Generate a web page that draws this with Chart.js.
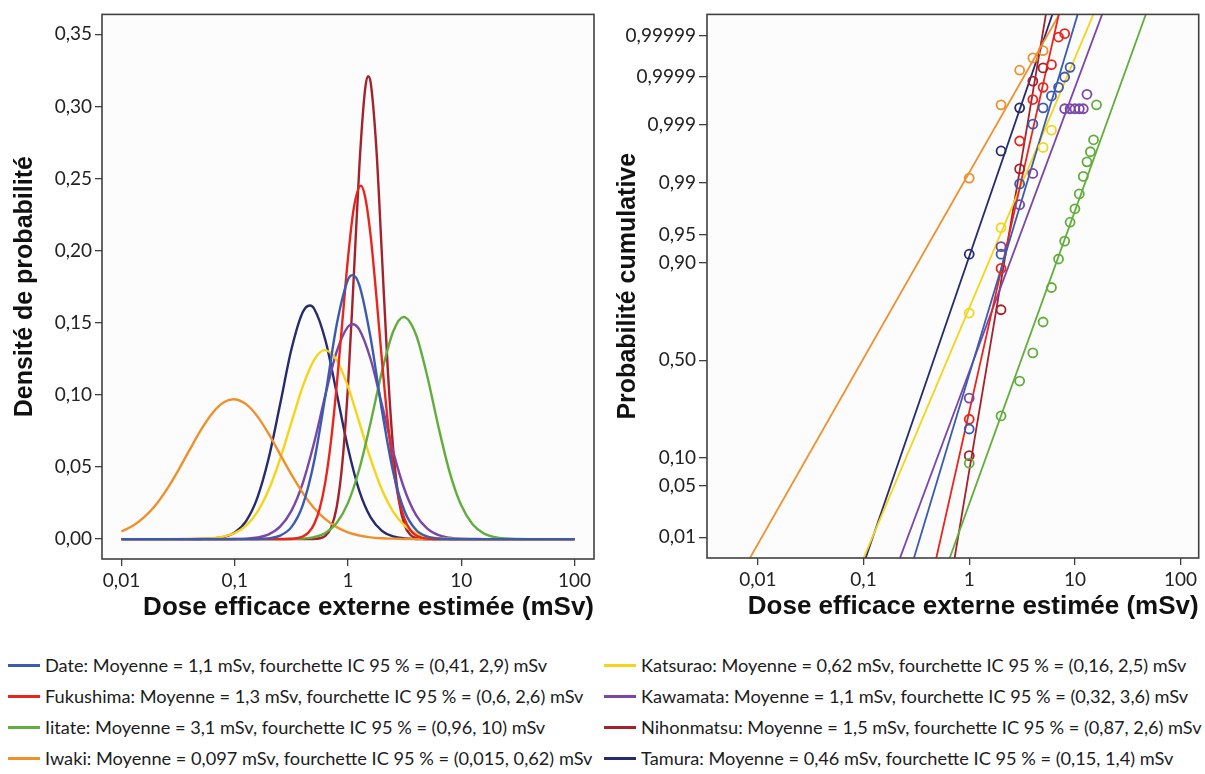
<!DOCTYPE html>
<html>
<head>
<meta charset="utf-8">
<script src="https://cdn.jsdelivr.net/npm/chart.js@4.4.1/dist/chart.umd.min.js"></script>
<style>
html,body{margin:0;padding:0;background:#fff;}
#wrap{position:relative;width:1205px;height:774px;overflow:hidden;background:#fff;}
#c1{position:absolute;left:0;top:0;}
#c2{position:absolute;left:600px;top:0;}
.item{position:absolute;display:flex;align-items:center;height:31px;white-space:nowrap;font-family:Lato,sans-serif;font-size:18.2px;color:#1c1c1c;}
.sw{display:inline-block;width:32px;height:3px;margin-right:5px;}
</style>
</head>
<body>
<div id="wrap">
<canvas id="c1" width="600" height="640"></canvas>
<canvas id="c2" width="605" height="640"></canvas>
<div id="legend"></div>
</div>
<script>
// ---------- categories & styles ----------
const cities = ['Date','Fukushima','Iitate','Iwaki','Katsurao','Kawamata','Nihonmatsu','Tamura'];
const cityColors = ['#3a5bb0','#e8261e','#62ad3c','#f0902c','#f5d419','#7a46a8','#a3222c','#262b6e'];
const legendTexts = [
  'Date: Moyenne = 1,1 mSv, fourchette IC 95 % = (0,41, 2,9) mSv',
  'Fukushima: Moyenne = 1,3 mSv, fourchette IC 95 % = (0,6, 2,6) mSv',
  'Iitate: Moyenne = 3,1 mSv, fourchette IC 95 % = (0,96, 10) mSv',
  'Iwaki: Moyenne = 0,097 mSv, fourchette IC 95 % = (0,015, 0,62) mSv',
  'Katsurao: Moyenne = 0,62 mSv, fourchette IC 95 % = (0,16, 2,5) mSv',
  'Kawamata: Moyenne = 1,1 mSv, fourchette IC 95 % = (0,32, 3,6) mSv',
  'Nihonmatsu: Moyenne = 1,5 mSv, fourchette IC 95 % = (0,87, 2,6) mSv',
  'Tamura: Moyenne = 0,46 mSv, fourchette IC 95 % = (0,15, 1,4) mSv'
];

// ---------- tick values & labels ----------
const doseTicks = [0.01, 0.1, 1, 10, 100];
const doseTickLabels = ['0,01', '0,1', '1', '10', '100'];
const densityTicks = [0, 0.05, 0.10, 0.15, 0.20, 0.25, 0.30, 0.35];
const densityTickLabels = ['0,00','0,05','0,10','0,15','0,20','0,25','0,30','0,35'];
const probTicks = [0.01, 0.05, 0.10, 0.50, 0.90, 0.95, 0.99, 0.999, 0.9999, 0.99999];
const probTickLabels = ['0,01','0,05','0,10','0,50','0,90','0,95','0,99','0,999','0,9999','0,99999'];

// ---------- left panel: density curves ----------
const dateDose = [0.01, 0.1259, 0.1585, 0.1995, 0.2512, 0.3162, 0.3981, 0.5012, 0.631, 0.7943, 1, 1.1, 1.259, 1.585, 1.995, 2.512, 3.162, 3.981, 5.012, 6.31, 7.943, 10, 100];
const dateDensity = [0, 0, 0.0001, 0.0005, 0.0024, 0.0083, 0.0234, 0.0536, 0.0993, 0.1486, 0.1799, 0.183, 0.1761, 0.1394, 0.0892, 0.0462, 0.0193, 0.0065, 0.0018, 0.0004, 0.0001, 0, 0];

const fukushimaDose = [0.01, 0.2818, 0.3162, 0.3548, 0.3981, 0.4467, 0.5012, 0.5623, 0.631, 0.7079, 0.7943, 0.8913, 1, 1.122, 1.3, 1.413, 1.585, 1.778, 1.995, 2.239, 2.512, 2.818, 3.162, 3.548, 3.981, 4.467, 5.012, 5.623, 6.31, 100];
const fukushimaDensity = [0, 0.0001, 0.0002, 0.0006, 0.0018, 0.0045, 0.0102, 0.0211, 0.0397, 0.0681, 0.1063, 0.1508, 0.1948, 0.2289, 0.245, 0.2377, 0.2103, 0.1691, 0.1237, 0.0824, 0.0498, 0.0274, 0.0138, 0.0063, 0.0026, 0.001, 0.0003, 0.0001, 0, 0];

const iitateDose = [0.01, 0.2512, 0.3162, 0.3981, 0.5012, 0.631, 0.7943, 1, 1.259, 1.585, 1.995, 2.512, 3.1, 3.981, 5.012, 6.31, 7.943, 10, 12.59, 15.85, 19.95, 25.12, 31.62, 39.81, 100];
const iitateDensity = [0, 0, 0.0001, 0.0004, 0.0014, 0.0043, 0.0112, 0.0251, 0.0486, 0.0809, 0.1162, 0.1441, 0.154, 0.1419, 0.1129, 0.0774, 0.0458, 0.0234, 0.0103, 0.0039, 0.0013, 0.0004, 0.0001, 0, 0];

const iwakiDose = [0.01, 0.01259, 0.01585, 0.01995, 0.02512, 0.03162, 0.03981, 0.05012, 0.0631, 0.07943, 0.097, 0.1259, 0.1585, 0.1995, 0.2512, 0.3162, 0.3981, 0.5012, 0.631, 0.7943, 1, 1.259, 1.585, 1.995, 2.512, 3.162, 3.981, 100];
const iwakiDensity = [0.0053, 0.0092, 0.0152, 0.0235, 0.0345, 0.0475, 0.0617, 0.0755, 0.0871, 0.0947, 0.097, 0.0936, 0.0851, 0.0729, 0.0588, 0.0448, 0.0321, 0.0216, 0.0138, 0.0083, 0.0047, 0.0025, 0.0012, 0.0006, 0.0003, 0.0001, 0, 0];

const katsuraoDose = [0.01, 0.03162, 0.03981, 0.05012, 0.0631, 0.07943, 0.1, 0.1259, 0.1585, 0.1995, 0.2512, 0.3162, 0.3981, 0.5012, 0.62, 0.7943, 1, 1.259, 1.585, 1.995, 2.512, 3.162, 3.981, 5.012, 6.31, 7.943, 10, 12.59, 100];
const katsuraoDensity = [0, 0, 0.0001, 0.0002, 0.0006, 0.0017, 0.0042, 0.0094, 0.0189, 0.0342, 0.0555, 0.0807, 0.1057, 0.1241, 0.131, 0.1241, 0.1057, 0.0807, 0.0555, 0.0342, 0.0189, 0.0094, 0.0042, 0.0017, 0.0006, 0.0002, 0.0001, 0, 0];

const kawamataDose = [0.01, 0.07943, 0.1, 0.1259, 0.1585, 0.1995, 0.2512, 0.3162, 0.3981, 0.5012, 0.631, 0.7943, 1, 1.1, 1.259, 1.585, 1.995, 2.512, 3.162, 3.981, 5.012, 6.31, 7.943, 10, 12.59, 15.85, 100];
const kawamataDensity = [0, 0, 0.0001, 0.0003, 0.0011, 0.0033, 0.0086, 0.0196, 0.0387, 0.0666, 0.0998, 0.13, 0.1473, 0.149, 0.1453, 0.1247, 0.0931, 0.0605, 0.0342, 0.0168, 0.0072, 0.0027, 0.0009, 0.0002, 0.0001, 0, 0];

const nihonmatsuDose = [0.01, 0.4467, 0.5012, 0.5623, 0.631, 0.7079, 0.7943, 0.8913, 1, 1.122, 1.259, 1.413, 1.5, 1.585, 1.778, 1.995, 2.239, 2.512, 2.818, 3.162, 3.548, 3.981, 4.467, 5.012, 100];
const nihonmatsuDensity = [0, 0, 0.0001, 0.0006, 0.0023, 0.0078, 0.0221, 0.0527, 0.1061, 0.1803, 0.258, 0.3113, 0.321, 0.3167, 0.2716, 0.1963, 0.1196, 0.0615, 0.0266, 0.0097, 0.003, 0.0008, 0.0002, 0, 0];

const tamuraDose = [0.01, 0.03981, 0.05012, 0.0631, 0.07943, 0.1, 0.1259, 0.1585, 0.1995, 0.2512, 0.3162, 0.3981, 0.46, 0.5012, 0.631, 0.7943, 1, 1.259, 1.585, 1.995, 2.512, 3.162, 3.981, 5.012, 100];
const tamuraDensity = [0, 0, 0.0001, 0.0004, 0.0015, 0.0046, 0.0125, 0.0288, 0.0562, 0.0933, 0.1314, 0.1573, 0.162, 0.1599, 0.138, 0.1012, 0.0631, 0.0334, 0.015, 0.0057, 0.0019, 0.0005, 0.0001, 0, 0];

// ---------- right panel: fitted lines (dose at the two probability ends) ----------
const fitProb = [0.004, 0.999998];
const dateFit = [0.292, 11.0];
const fukushimaFit = [0.478, 7.23];
const iitateFit = [0.633, 48.9];
const iwakiFit = [0.008, 7.6];
const katsuraoFit = [0.0965, 15.7];
const kawamataFit = [0.214, 18.9];
const nihonmatsuFit = [0.716, 5.42];
const tamuraFit = [0.1016, 6.37];

// ---------- right panel: observed points ----------
const dateObsDose = [1, 2, 3, 4, 5, 6, 7, 8, 9];
const dateObsProb = [0.183, 0.918, 0.9897, 0.99903, 0.99954, 0.99974, 0.99983, 0.9999, 0.99994];
const fukushimaObsDose = [1, 2, 3, 4, 5, 6, 7, 8];
const fukushimaObsProb = [0.219, 0.886, 0.998, 0.99969, 0.99983, 0.999948, 0.999989, 0.999991];
const iitateObsDose = [1, 2, 3, 4, 5, 6, 7, 8, 9, 10, 11, 12, 13, 14, 15, 16];
const iitateObsProb = [0.088, 0.232, 0.392, 0.538, 0.692, 0.83, 0.908, 0.941, 0.965, 0.9766, 0.9855, 0.9921, 0.9954, 0.9969, 0.9981, 0.9996];
const iwakiObsDose = [1, 2, 3, 4, 5];
const iwakiObsProb = [0.9916, 0.9996, 0.99993, 0.999964, 0.999976];
const katsuraoObsDose = [1, 2, 5, 6];
const katsuraoObsProb = [0.732, 0.959, 0.9974, 0.99874];
const kawamataObsDose = [1, 2, 3, 4, 8, 9, 10, 11, 12, 13];
const kawamataObsProb = [0.309, 0.932, 0.9794, 0.9929, 0.99952, 0.99952, 0.99952, 0.99952, 0.99952, 0.99976];
const nihonmatsuObsDose = [1, 2, 3, 4, 5];
const nihonmatsuObsProb = [0.105, 0.746, 0.994, 0.999876, 0.999938];
const tamuraObsDose = [1, 2, 3];
const tamuraObsProb = [0.918, 0.997, 0.99954];

// ---------- assemble ----------
const densityDoseSets = [dateDose, fukushimaDose, iitateDose, iwakiDose, katsuraoDose, kawamataDose, nihonmatsuDose, tamuraDose];
const densityValueSets = [dateDensity, fukushimaDensity, iitateDensity, iwakiDensity, katsuraoDensity, kawamataDensity, nihonmatsuDensity, tamuraDensity];
const fitDoseSets = [dateFit, fukushimaFit, iitateFit, iwakiFit, katsuraoFit, kawamataFit, nihonmatsuFit, tamuraFit];
const obsDoseSets = [dateObsDose, fukushimaObsDose, iitateObsDose, iwakiObsDose, katsuraoObsDose, kawamataObsDose, nihonmatsuObsDose, tamuraObsDose];
const obsProbSets = [dateObsProb, fukushimaObsProb, iitateObsProb, iwakiObsProb, katsuraoObsProb, kawamataObsProb, nihonmatsuObsProb, tamuraObsProb];

function xy(xs, ys) { return xs.map((x, i) => ({x: x, y: ys[i]})); }

// ---------- normal probability (probit) scale ----------
function probit(p) {
  const a = [-3.969683028665376e+01, 2.209460984245205e+02, -2.759285104469687e+02, 1.383577518672690e+02, -3.066479806614716e+01, 2.506628277459239e+00];
  const b = [-5.447609879822406e+01, 1.615858368580409e+02, -1.556989798598866e+02, 6.680131188771972e+01, -1.328068155288572e+01];
  const c = [-7.784894002430293e-03, -3.223964580411365e-01, -2.400758277161838e+00, -2.549732539343734e+00, 4.374664141464968e+00, 2.938163982698783e+00];
  const d = [7.784695709041462e-03, 3.224671290700398e-01, 2.445134137142996e+00, 3.754408661907416e+00];
  const pl = 0.02425;
  let q, r;
  if (p < pl) {
    q = Math.sqrt(-2 * Math.log(p));
    return (((((c[0]*q+c[1])*q+c[2])*q+c[3])*q+c[4])*q+c[5]) / ((((d[0]*q+d[1])*q+d[2])*q+d[3])*q+1);
  }
  if (p <= 1 - pl) {
    q = p - 0.5; r = q * q;
    return (((((a[0]*r+a[1])*r+a[2])*r+a[3])*r+a[4])*r+a[5])*q / (((((b[0]*r+b[1])*r+b[2])*r+b[3])*r+b[4])*r+1);
  }
  q = Math.sqrt(-2 * Math.log(1 - p));
  return -(((((c[0]*q+c[1])*q+c[2])*q+c[3])*q+c[4])*q+c[5]) / ((((d[0]*q+d[1])*q+d[2])*q+d[3])*q+1);
}
function normCdf(z) {
  const t = 1 / (1 + 0.3275911 * Math.abs(z) / Math.SQRT2);
  const y = 1 - (((((1.061405429*t - 1.453152027)*t) + 1.421413741)*t - 0.284496736)*t + 0.254829592)*t*Math.exp(-z*z/2);
  return z >= 0 ? 0.5 * (1 + y) : 0.5 * (1 - y);
}
const BaseLinear = Chart.LinearScale || Chart.registry.getScale('linear');
class ProbitScale extends BaseLinear {
  determineDataLimits() { this.min = this.options.min; this.max = this.options.max; }
  buildTicks() { return probTicks.map(v => ({value: v})); }
  configure() {
    super.configure();
    this._zMin = probit(this.min);
    this._zMax = probit(this.max);
  }
  getPixelForValue(v) {
    if (v === null || v === undefined || isNaN(v)) return NaN;
    const p = Math.min(Math.max(v, 1e-12), 1 - 1e-12);
    return this.getPixelForDecimal((probit(p) - this._zMin) / (this._zMax - this._zMin));
  }
  getValueForPixel(px) {
    const dec = this.getDecimalForPixel(px);
    return normCdf(this._zMin + dec * (this._zMax - this._zMin));
  }
}
ProbitScale.id = 'probit';
ProbitScale.defaults = {};
Chart.register(ProbitScale);

// ---------- shared style ----------
const tickFont = {family: 'Lato', size: 19};
const xTitleFont = {family: 'Liberation Sans', size: 26, weight: 'bold'};
const yTitleFont = {family: 'Liberation Sans', size: 25, weight: 'bold'};
const axisColor = '#404040';
const boxPlugin = {
  id: 'box',
  beforeDatasetsDraw(chart) {
    const {ctx, chartArea: a} = chart;
    ctx.save(); ctx.fillStyle = '#fcfcfc';
    ctx.fillRect(a.left, a.top, a.right - a.left, a.bottom - a.top); ctx.restore();
  },
  afterDraw(chart) {
    const {ctx, chartArea: a} = chart;
    ctx.save(); ctx.strokeStyle = axisColor; ctx.lineWidth = 1.6;
    ctx.strokeRect(a.left, a.top, a.right - a.left, a.bottom - a.top); ctx.restore();
  }
};
function gridOpts() { return {drawOnChartArea: false, drawTicks: true, tickLength: 7, color: axisColor, lineWidth: 1.3}; }

// ---------- left chart ----------
new Chart(document.getElementById('c1'), {
  type: 'line',
  data: {
    datasets: cities.map((c, i) => ({
      label: c,
      data: xy(densityDoseSets[i], densityValueSets[i]),
      borderColor: cityColors[i], backgroundColor: cityColors[i],
      borderWidth: 2.4, pointRadius: 0, fill: false,
      cubicInterpolationMode: 'monotone'
    }))
  },
  options: {
    responsive: false, animation: false, events: [],
    layout: {padding: {left: 0, right: 6, top: 13, bottom: 0}},
    plugins: {legend: {display: false}, tooltip: {enabled: false}},
    scales: {
      x: {
        type: 'logarithmic', min: 0.006722, max: 148.8,
        afterBuildTicks: s => { s.ticks = doseTicks.map(v => ({value: v})); },
        afterFit: s => { s.height = 81; },
        ticks: {autoSkip: false, maxRotation: 0, padding: 3, font: tickFont, color: '#222',
                callback: (v, i) => doseTickLabels[i]},
        grid: gridOpts(), border: {display: false},
        title: {display: true, text: 'Dose efficace externe estimée (mSv)', align: 'end',
                font: xTitleFont, color: '#111', padding: {top: 0, bottom: 17}}
      },
      y: {
        type: 'linear', min: -0.0138, max: 0.3638,
        afterBuildTicks: s => { s.ticks = densityTicks.map(v => ({value: v})); },
        afterFit: s => { s.width = 102; },
        ticks: {autoSkip: false, padding: 3, font: tickFont, color: '#222',
                callback: (v, i) => densityTickLabels[i]},
        grid: gridOpts(), border: {display: false},
        title: {display: true, text: 'Densité de probabilité', font: yTitleFont, color: '#111',
                padding: {top: 10, bottom: 0}}
      }
    }
  },
  plugins: [boxPlugin]
});

// ---------- right chart ----------
const rightDatasets = [];
cities.forEach((c, i) => {
  rightDatasets.push({
    label: c + ' (observé)',
    data: xy(obsDoseSets[i], obsProbSets[i]),
    showLine: false, pointRadius: 4.5, pointStyle: 'circle',
    borderColor: cityColors[i], backgroundColor: 'rgba(0,0,0,0)', borderWidth: 1.8
  });
});
cities.forEach((c, i) => {
  rightDatasets.push({
    label: c + ' (ajustement)',
    data: xy(fitDoseSets[i], fitProb),
    showLine: true, pointRadius: 0,
    borderColor: cityColors[i], backgroundColor: cityColors[i], borderWidth: 1.8
  });
});
new Chart(document.getElementById('c2'), {
  type: 'scatter',
  data: {datasets: rightDatasets},
  options: {
    responsive: false, animation: false, events: [],
    layout: {padding: {left: 0, right: 5, top: 11, bottom: 0}},
    plugins: {legend: {display: false}, tooltip: {enabled: false}},
    scales: {
      x: {
        type: 'logarithmic', min: 0.003304, max: 148.3,
        afterBuildTicks: s => { s.ticks = doseTicks.map(v => ({value: v})); },
        afterFit: s => { s.height = 82; },
        ticks: {autoSkip: false, maxRotation: 0, padding: 3, font: tickFont, color: '#222',
                callback: (v, i) => doseTickLabels[i]},
        grid: gridOpts(), border: {display: false},
        title: {display: true, text: 'Dose efficace externe estimée (mSv)', align: 'end',
                font: xTitleFont, color: '#111', padding: {top: 0, bottom: 18}}
      },
      y: {
        type: 'probit', min: 0.00469, max: 0.9999972,
        afterFit: s => { s.width = 107; },
        ticks: {autoSkip: false, padding: 3, font: tickFont, color: '#222',
                callback: (v, i) => probTickLabels[i]},
        grid: Object.assign(gridOpts(), {tickLength: 8}), border: {display: false},
        title: {display: true, text: 'Probabilité cumulative', font: yTitleFont, color: '#111',
                padding: {top: 13, bottom: 0}}
      }
    }
  },
  plugins: [boxPlugin]
});

// ---------- legend ----------
const legendEl = document.getElementById('legend');
cities.forEach((c, i) => {
  const col = i < 4 ? 0 : 1, row = i % 4;
  const d = document.createElement('div');
  d.className = 'item';
  d.style.left = (col ? 604 : 8) + 'px';
  d.style.top = (649.5 + row * 31.1) + 'px';
  const sw = document.createElement('span');
  sw.className = 'sw'; sw.style.background = cityColors[i];
  const tx = document.createElement('span');
  tx.textContent = legendTexts[i];
  d.appendChild(sw); d.appendChild(tx);
  legendEl.appendChild(d);
});
</script>
</body>
</html>
